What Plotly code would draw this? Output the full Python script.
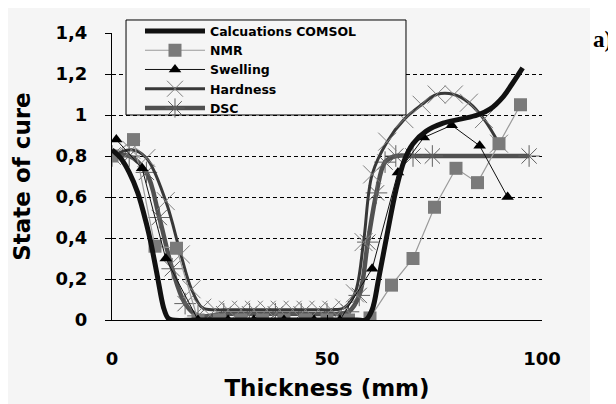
import plotly.graph_objects as go

# ---------------- data ----------------
comsol_x = [0, 2, 4, 6, 8, 9, 10.5, 12, 13, 14, 20, 30, 40, 50, 57, 59, 60.5, 62, 64, 66, 68, 70, 73, 77, 81, 85, 88, 91, 93, 95.5]
comsol_y = [0.83, 0.79, 0.72, 0.62, 0.47, 0.38, 0.22, 0.06, 0.01, 0, 0, 0, 0, 0, 0, 0, 0.05, 0.2, 0.42, 0.63, 0.78, 0.86, 0.92, 0.96, 0.98, 1.0, 1.03, 1.09, 1.15, 1.23]

nmr_x = [0, 5, 10, 15, 20, 25, 30, 35, 40, 45, 50, 55, 60, 65, 70, 75, 80, 85, 90, 95]
nmr_y = [0.8, 0.88, 0.36, 0.35, 0.0, 0.0, 0.0, 0.0, 0.0, 0.0, 0.0, 0.0, 0.01, 0.17, 0.30, 0.55, 0.74, 0.67, 0.86, 1.05]

swell_x = [1, 7, 12.5, 20, 27, 33, 40, 47, 53, 60.5, 66.5, 72.5, 79, 85.5, 92]
swell_y = [0.88, 0.74, 0.30, 0.0, 0.0, 0.0, 0.0, 0.0, 0.0, 0.25, 0.72, 0.89, 0.95, 0.85, 0.60]

hard_x = [0, 4.5, 8, 12.5, 16, 18.5, 21, 24, 27, 30, 33, 36, 39, 42, 45, 48, 51, 54, 56.5, 58.5, 60.5, 64, 68, 72, 75.5, 79.5, 83, 86.5, 90]
hard_y = [0.8, 0.83, 0.79, 0.58, 0.32, 0.15, 0.06, 0.05, 0.05, 0.05, 0.05, 0.05, 0.05, 0.05, 0.05, 0.05, 0.05, 0.06, 0.13, 0.38, 0.71, 0.87, 0.98, 1.05, 1.1, 1.1, 1.06, 0.98, 0.86]

dsc_x = [0, 4, 8, 11, 14, 17, 20, 26, 32, 38, 44, 50, 55, 57.5, 59.5, 61.5, 63.5, 66, 70, 74.5, 97]
dsc_y = [0.8, 0.8, 0.72, 0.5, 0.25, 0.08, 0.02, 0.03, 0.03, 0.03, 0.03, 0.03, 0.04, 0.12, 0.38, 0.62, 0.77, 0.8, 0.8, 0.8, 0.8]

y_ticks = [0, 0.2, 0.4, 0.6, 0.8, 1.0, 1.2, 1.4]
y_ticktext = ["0", "0,2", "0,4", "0,6", "0,8", "1", "1,2", "1,4"]
grid_vals = [0.2, 0.4, 0.6, 0.8, 1.0, 1.2]
x_ticks = [0, 50, 100]

FONT = "DejaVu Sans"
BG = "#f5f5f5"

fig = go.Figure()

fig.add_trace(go.Scatter(x=dsc_x, y=dsc_y, name="DSC", mode="lines+markers", legendrank=5,
                         line=dict(color="#505050", width=4.5, shape="spline"),
                         marker=dict(symbol="asterisk", size=18, color="#606060",
                                     line=dict(color="#606060", width=1))))
fig.add_trace(go.Scatter(x=hard_x, y=hard_y, name="Hardness", mode="lines+markers", legendrank=4,
                         line=dict(color="#383838", width=3, shape="spline"),
                         marker=dict(symbol="x-thin", size=18, color="#808080",
                                     line=dict(color="#808080", width=1))))
fig.add_trace(go.Scatter(x=nmr_x, y=nmr_y, name="NMR", mode="lines+markers", legendrank=2,
                         line=dict(color="#9a9a9a", width=1.2),
                         marker=dict(symbol="square", size=13, color="#7a7a7a")))
fig.add_trace(go.Scatter(x=swell_x, y=swell_y, name="Swelling", mode="lines+markers", legendrank=3,
                         line=dict(color="#111111", width=1),
                         marker=dict(symbol="triangle-up", size=11, color="#000000")))
fig.add_trace(go.Scatter(x=comsol_x, y=comsol_y, name="Calcuations COMSOL", mode="lines", legendrank=1,
                         line=dict(color="#111111", width=5, shape="spline")))
# dummy trace for the grid axis
fig.add_trace(go.Scatter(x=[None], y=[None], yaxis="y2", showlegend=False, hoverinfo="skip"))

# page body has an 8px margin, so the figure is drawn 8px smaller
fig.update_layout(
    width=608, height=396,
    margin=dict(l=104, r=74, t=25, b=84, autoexpand=False),
    paper_bgcolor="white",
    plot_bgcolor=BG,
    font=dict(family=FONT, color="black"),
    xaxis=dict(range=[0, 100], tickvals=x_ticks, showgrid=False, zeroline=False, automargin=False,
               showline=True, linecolor="black", linewidth=1,
               ticks="inside", ticklen=5, tickcolor="black",
               tickfont=dict(family=FONT, size=18, weight="bold"),
               ticklabelstandoff=22,
               title=dict(text="Thickness (mm)", font=dict(family=FONT, size=23, weight="bold"), standoff=12)),
    yaxis=dict(range=[0, 1.4], tickvals=y_ticks, ticktext=y_ticktext, showgrid=False, zeroline=False,
               automargin=False,
               showline=True, linecolor="black", linewidth=1,
               ticks="outside", ticklen=6, tickcolor="black",
               tickfont=dict(family=FONT, size=18, weight="bold"),
               ticklabelstandoff=14,
               title=dict(text="State of cure", font=dict(family=FONT, size=23, weight="bold"), standoff=18)),
    yaxis2=dict(range=[0, 1.4], overlaying="y", tickvals=grid_vals, showticklabels=False,
                showgrid=True, gridcolor="black", gridwidth=1, griddash="4px,3px",
                zeroline=False, showline=False, ticks=""),
    legend=dict(x=0.0651, y=1.058, xanchor="left", yanchor="top",
                bgcolor="rgba(0,0,0,0)", borderwidth=0, itemwidth=60,
                tracegroupgap=0,
                font=dict(family=FONT, size=12.5, weight="bold", color="black")),
    shapes=[
        dict(type="rect", xref="paper", yref="paper", x0=-1.0, x1=1.1116, y0=-1.0, y1=1.2,
             fillcolor=BG, line=dict(width=0), layer="below"),
        dict(type="rect", xref="paper", yref="paper", x0=0.0326, x1=0.6837, y0=0.7143, y1=1.0453,
             fillcolor=BG, line=dict(color="black", width=1), layer="above"),
    ],
    annotations=[
        dict(text="a)", xref="paper", yref="paper", x=1.168, y=0.976, xanchor="right", yanchor="middle",
             showarrow=False, font=dict(family="Liberation Serif", size=23, weight="bold", color="black")),
    ],
)

fig.write_html("out.html")
